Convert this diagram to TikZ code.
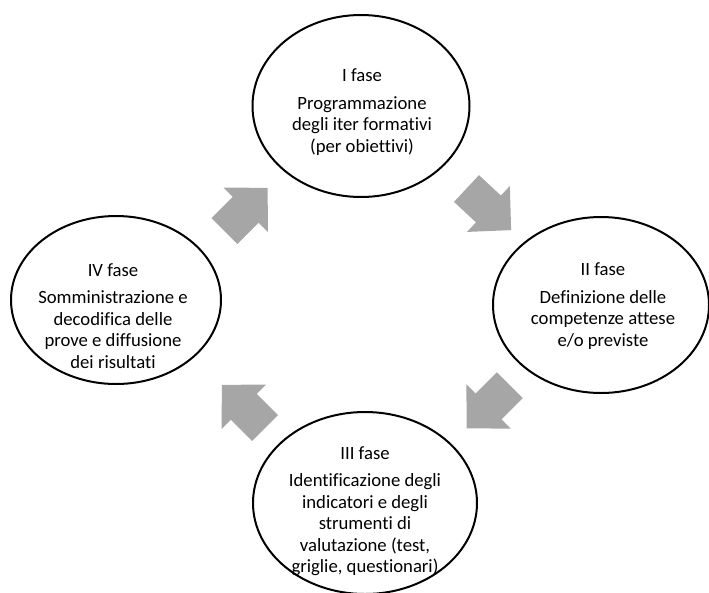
\documentclass[tikz,border=0pt]{standalone}
\usepackage{fontspec}
\setmainfont{Carlito}[Ligatures={NoCommon,NoRequired,NoContextual}]
\usetikzlibrary{shapes.geometric}
\definecolor{arrowgray}{HTML}{A6A6A6}
\tikzset{
  fase/.style={ellipse, draw=black, line width=2pt, fill=white, inner sep=0pt},
  fasetext/.style={align=center, inner sep=0pt, font=\fontsize{18.7}{21.5}\selectfont},
  blockarrow/.style={fill=arrowgray, draw=none},
  % block arrow pointing along +x, tail centred on the origin
  fasearrow/.pic={\path[blockarrow] (0,-18.3) -- (30,-18.3) -- (30,-31.4) -- (61,0)
      -- (30,31.4) -- (30,18.3) -- (0,18.3) -- cycle;}
}
\begin{document}
\begin{tikzpicture}[x=1pt, y=-1pt]
  \useasboundingbox (0,0) rectangle (709,592);
  \clip (0,0) rectangle (709,592);

  % the four phases
  \node[fase, minimum width=217pt, minimum height=182pt] (I)   at (361,106) {};
  \node[fase, minimum width=216pt, minimum height=176pt] (II)  at (601,305) {};
  \node[fase, minimum width=224pt, minimum height=182pt] (III) at (365,503) {};
  \node[fase, minimum width=210pt, minimum height=168pt] (IV)  at (116,300) {};

  \node[fasetext] (Itext)   at (362,112) {I fase\\[6pt]Programmazione\\degli iter formativi\\(per obiettivi)};
  \node[fasetext] (IItext)  at (603,306) {II fase\\[6pt]Definizione delle\\competenze attese\\e/o previste};
  \node[fasetext] (IIItext) at (365,511) {III fase\\[6pt]Identificazione degli\\indicatori e degli\\strumenti di\\valutazione (test,\\griglie, questionari)};
  \node[fasetext] (IVtext)  at (113,316) {IV fase\\[6pt]Somministrazione e\\decodifica delle\\prove e diffusione\\dei risultati};

  % block arrows of the cycle
  \pic[rotate=45]  at (224.5,231)   {fasearrow};
  \pic[rotate=-43] at (466.5,188.5) {fasearrow};
  \pic[rotate=225] at (509.8,385.2) {fasearrow};
  \pic[rotate=135] at (265,428)     {fasearrow};
\end{tikzpicture}
\end{document}
